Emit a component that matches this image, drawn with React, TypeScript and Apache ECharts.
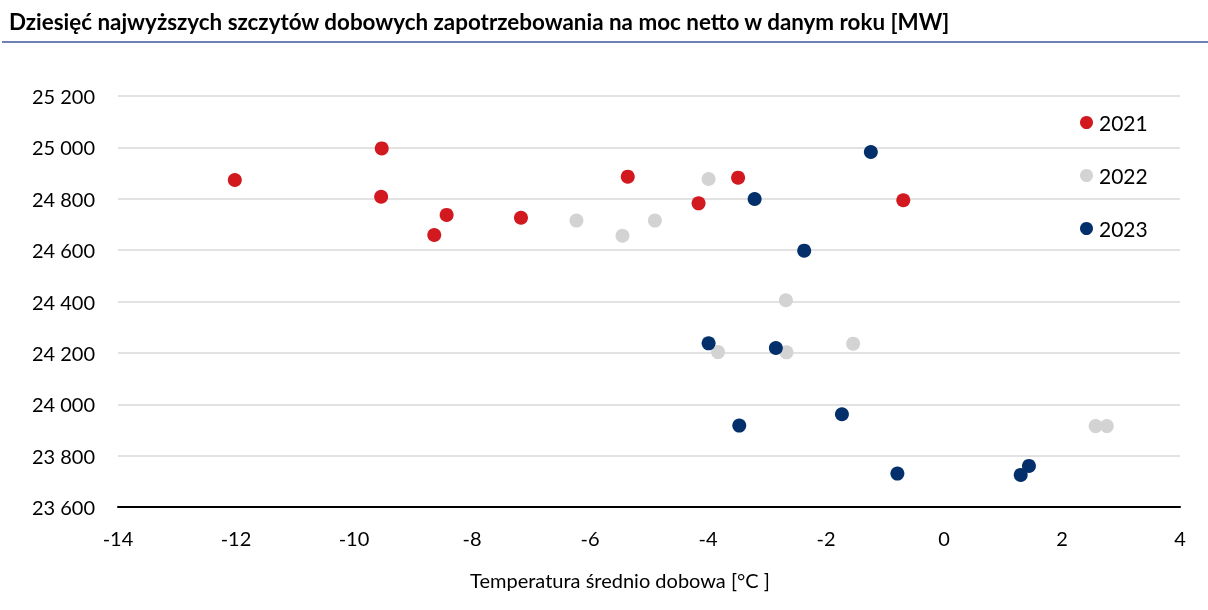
import React, { useEffect, useRef } from "react";
import * as echarts from "echarts";

const title = "Dziesięć najwyższych szczytów dobowych zapotrzebowania na moc netto w danym roku [MW]";
const xAxisName = "Temperatura średnio dobowa [°C ]";
const seriesNames = ["2021", "2022", "2023"];
const seriesColors = ["#D2191F", "#D3D3D3", "#03306B"];

const temp2021 = [-12.02, -9.53, -9.54, -8.43, -8.64, -7.17, -5.36, -4.16, -3.49, -0.69];
const demand2021 = [24873, 24996, 24808, 24737, 24659, 24726, 24886, 24782, 24882, 24794];

const temp2022 = [-6.23, -5.45, -4.9, -3.99, -2.68, -3.83, -2.67, -1.54, 2.57, 2.76];
const demand2022 = [24715, 24656, 24715, 24877, 24405, 24203, 24202, 24236, 23915, 23915];

const temp2023 = [-1.24, -3.21, -2.37, -3.99, -2.85, -3.47, -1.73, -0.79, 1.3, 1.44];
const demand2023 = [24982, 24799, 24598, 24237, 24219, 23917, 23961, 23730, 23725, 23760];

const FONT = "Lato, 'Open Sans', sans-serif";

function pairs(xs: number[], ys: number[]) {
  return xs.map((x, i) => [x, ys[i]]);
}

export default function App() {
  const ref = useRef<HTMLDivElement>(null);
  useEffect(() => {
    if (!ref.current) return;
    const chart = echarts.init(ref.current, undefined, { renderer: "svg" });
    const data = [pairs(temp2021, demand2021), pairs(temp2022, demand2022), pairs(temp2023, demand2023)];
    chart.setOption({
      animation: false,
      textStyle: { fontFamily: FONT },
      title: {
        text: title,
        left: 4,
        top: 5,
        textStyle: { fontFamily: FONT, fontSize: 22.4, fontWeight: "bold", color: "#000" },
      },
      graphic: [
        {
          type: "line",
          shape: { x1: 2, y1: 42, x2: 1208, y2: 42 },
          style: { stroke: "#6F80B6", lineWidth: 2 },
        },
      ],
      legend: {
        orient: "vertical",
        left: 1080,
        top: 112,
        padding: 0,
        itemWidth: 13,
        itemHeight: 13,
        itemGap: 32,
        icon: "circle",
        textStyle: { fontFamily: FONT, fontSize: 21, color: "#000", padding: [0, 0, 0, 1] },
        data: seriesNames,
      },
      grid: { left: 118, right: 28, top: 96, bottom: 103 },
      xAxis: {
        type: "value",
        min: -14,
        max: 4,
        interval: 2,
        name: xAxisName,
        nameLocation: "middle",
        nameGap: 63,
        nameTextStyle: { fontFamily: FONT, fontSize: 20, color: "#000", padding: [0, 58, 0, 0] },
        axisLine: { onZero: false, lineStyle: { color: "#000", width: 2 } },
        axisTick: { show: false },
        splitLine: { show: false },
        axisLabel: { fontFamily: FONT, fontSize: 20, color: "#000", margin: 21 },
      },
      yAxis: {
        type: "value",
        min: 23600,
        max: 25200,
        interval: 200,
        axisLine: { show: false },
        axisTick: { show: false },
        splitLine: { lineStyle: { color: "#D9D9D9", width: 1.5 } },
        axisLabel: {
          fontFamily: FONT,
          fontSize: 20,
          color: "#000",
          margin: 23,
          formatter: (v: number) => String(v).replace(/\B(?=(\d{3})+(?!\d))/g, " "),
        },
      },
      series: seriesNames.map((name, i) => ({
        name,
        type: "scatter",
        symbolSize: 14,
        itemStyle: { color: seriesColors[i], opacity: 1 },
        data: data[i],
      })),
    });
    return () => chart.dispose();
  }, []);
  return <div ref={ref} style={{ position: "fixed", left: 0, top: 0, width: 1208, height: 610 }} />;
}
